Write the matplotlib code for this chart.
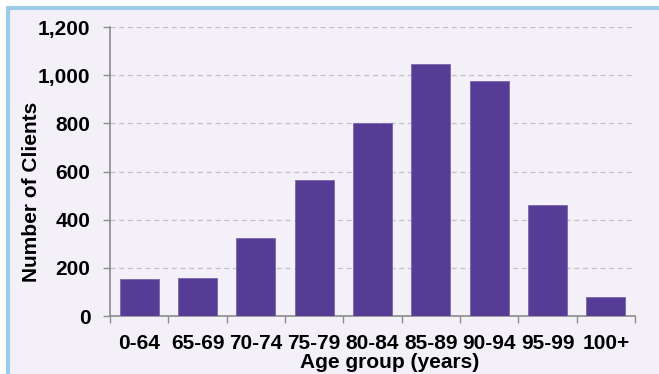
import matplotlib.pyplot as plt
import numpy as np
from matplotlib.patches import Rectangle
from matplotlib.ticker import FuncFormatter, FixedLocator

plt.rcParams['font.family'] = ['Liberation Sans', 'DejaVu Sans']

age_groups = ['0-64', '65-69', '70-74', '75-79', '80-84', '85-89', '90-94', '95-99', '100+']
clients = [152, 159, 324, 565, 801, 1046, 976, 461, 78]

fig = plt.figure(figsize=(6.59, 3.74), dpi=100)
fig.patch.set_facecolor('white')

# panel frame behind the chart
frame = Rectangle((8 / 659, -0.05), 1.1, 1 - 8.5 / 374 + 0.05, transform=fig.transFigure,
                  facecolor='#f3f1f7', edgecolor='#9fcbea', linewidth=3, zorder=-1)
fig.patches.append(frame)

ax = fig.add_axes([110 / 659, 1 - 316 / 374, 525 / 659, 289 / 374])
ax.set_facecolor('none')

x = np.arange(len(age_groups))
ax.bar(x, clients, width=0.67, color='#563c94', edgecolor='#7a66ad', linewidth=0.6, zorder=3)

ax.set_xlim(-0.5, len(age_groups) - 0.5)
ax.set_ylim(0, 1200)
ax.set_yticks(np.arange(0, 1201, 200))
ax.yaxis.set_major_formatter(FuncFormatter(lambda v, p: f'{int(v):,}'))
ax.grid(axis='y', color='#c0c0c0', linestyle=(0, (4, 3)), linewidth=0.9, zorder=0)

ax.set_xticks(x)
ax.set_xticklabels(age_groups)
ax.xaxis.set_minor_locator(FixedLocator(np.arange(-0.5, len(age_groups), 1)))
ax.tick_params(axis='x', which='major', length=0, pad=13)
ax.tick_params(axis='x', which='minor', length=5, color='#8c8c8c', width=1)
ax.tick_params(axis='y', length=5, color='#8c8c8c', width=1, pad=9)

for lab in ax.get_xticklabels() + ax.get_yticklabels():
    lab.set_fontsize(15)
    lab.set_fontweight('bold')

for side in ['top', 'right']:
    ax.spines[side].set_visible(False)
for side in ['left', 'bottom']:
    ax.spines[side].set_color('#8c8c8c')
    ax.spines[side].set_linewidth(1.2)

fig.text(32 / 659, 1 - 192 / 374, 'Number of Clients', rotation=90, ha='center', va='center',
         fontsize=15, fontweight='bold')
fig.text(390 / 659, 1 - 363 / 374, 'Age group (years)', ha='center', va='center',
         fontsize=15, fontweight='bold')

fig.savefig('out.png', dpi=100)
